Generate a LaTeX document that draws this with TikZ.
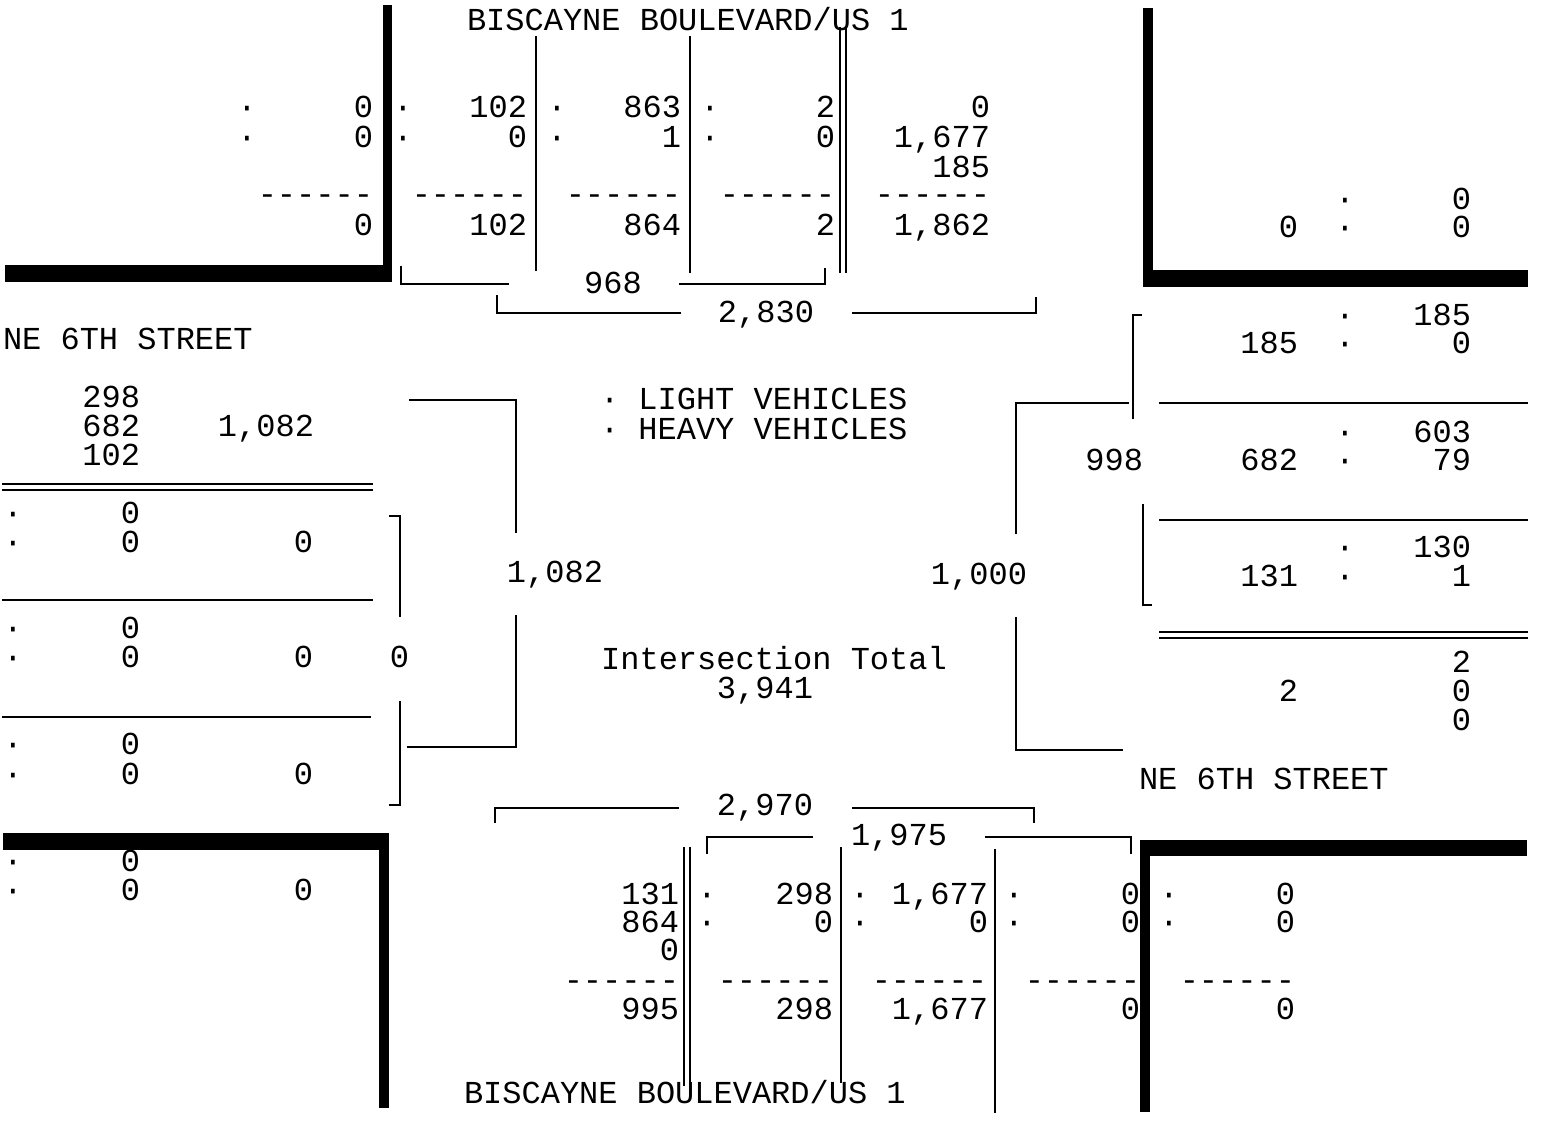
\documentclass[tikz,border=0pt]{standalone}
\usepackage{fontspec}
\setmonofont{Liberation Mono}
\newcounter{nn}
\tikzset{
  num/.style={inner sep=0pt, outer sep=0pt, text height=19pt, text depth=0pt,
    font=\ttfamily\fontsize{32}{32}\selectfont},
  ln/.style={line width=2pt, line cap=rect},
  bar/.style={fill=black, draw=none}
}
\newcommand\RN[3]{\stepcounter{nn}\node[num,anchor=east] (n\arabic{nn}) at (#1,#2) {#3};}
\newcommand\DT[2]{\stepcounter{nn}\node[num,anchor=center] (n\arabic{nn}) at (#1,#2) {·};}
\newcommand\CN[3]{\stepcounter{nn}\node[num,anchor=center] (n\arabic{nn}) at (#1,#2) {#3};}
\newcommand\LN[3]{\stepcounter{nn}\node[num,anchor=west] (n\arabic{nn}) at (#1,#2) {#3};}
\begin{document}
\begin{tikzpicture}[x=1pt,y=-1pt]
\useasboundingbox (0,0) rectangle (1551,1121);
\fill[white] (0,0) rectangle (1551,1121);

% thick corner bars
\fill[bar] (383,5) rectangle (392,282);
\fill[bar] (5,265) rectangle (392,282);
\fill[bar] (1143,8) rectangle (1153,287);
\fill[bar] (1143,270) rectangle (1528,287);
\fill[bar] (3,833) rectangle (388,850);
\fill[bar] (379,833) rectangle (389,1108);
\fill[bar] (1140,840) rectangle (1150,1112);
\fill[bar] (1140,840) rectangle (1527,856);

% titles
\LN{467}{21}{BISCAYNE BOULEVARD/US 1}
\LN{464}{1094}{BISCAYNE BOULEVARD/US 1}
\LN{3}{340}{NE 6TH STREET}
\LN{1139}{780}{NE 6TH STREET}

% ---------- top (north) ----------
\draw[ln] (536,37) -- (536,270);
\draw[ln] (690,37) -- (690,272);
\draw[ln] (840,28) -- (840,272);
\draw[ln] (846,28) -- (846,272);

\DT{247}{108}\RN{373}{108}{0}\DT{403}{108}\RN{527}{108}{102}\DT{557}{108}\RN{681}{108}{863}\DT{710}{108}\RN{835}{108}{2}\RN{990}{108}{0}
\DT{247}{138}\RN{373}{138}{0}\DT{403}{138}\RN{527}{138}{0}\DT{557}{138}\RN{681}{138}{1}\DT{710}{138}\RN{835}{138}{0}\RN{990}{138}{1,677}
\RN{990}{168}{185}
\RN{373}{195}{------}\RN{527}{195}{------}\RN{681}{195}{------}\RN{835}{195}{------}\RN{990}{195}{------}
\RN{373}{226}{0}\RN{527}{226}{102}\RN{681}{226}{864}\RN{835}{226}{2}\RN{990}{226}{1,862}

\CN{613}{284}{968}
\draw[ln] (401,267) -- (401,284) -- (508,284);
\draw[ln] (680,284) -- (825,284) -- (825,269);
\CN{766}{313}{2,830}
\draw[ln] (497,296) -- (497,313) -- (680,313);
\draw[ln] (853,313) -- (1036,313) -- (1036,298);

% top right corner
\DT{1345}{200}\RN{1471}{200}{0}
\RN{1298}{228}{0}\DT{1345}{228}\RN{1471}{228}{0}

% ---------- right (east) ----------
\draw[ln] (1141,315) -- (1133,315) -- (1133,418);
\draw[ln] (1143,505) -- (1143,605) -- (1151,605);
\draw[ln] (1160,403) -- (1527,403);
\draw[ln] (1160,520) -- (1527,520);
\draw[ln] (1160,632) -- (1527,632);
\draw[ln] (1160,638) -- (1527,638);

\DT{1345}{316}\RN{1471}{316}{185}
\RN{1298}{344}{185}\DT{1345}{344}\RN{1471}{344}{0}
\DT{1345}{433}\RN{1471}{433}{603}
\RN{1143}{461}{998}\RN{1298}{461}{682}\DT{1345}{461}\RN{1471}{461}{79}
\DT{1345}{548}\RN{1471}{548}{130}
\RN{1298}{577}{131}\DT{1345}{577}\RN{1471}{577}{1}
\RN{1471}{663}{2}
\RN{1298}{692}{2}\RN{1471}{692}{0}
\RN{1471}{721}{0}

\draw[ln] (1128,403) -- (1016,403) -- (1016,533);
\draw[ln] (1016,618) -- (1016,750) -- (1122,750);
\RN{1027}{575}{1,000}

% ---------- left (west) ----------
\RN{140}{398}{298}
\RN{140}{427}{682}\RN{314}{427}{1,082}
\RN{140}{456}{102}
\draw[ln] (3,484) -- (372,484);
\draw[ln] (3,490) -- (372,490);
\DT{13}{514}\RN{140}{514}{0}
\DT{13}{543}\RN{140}{543}{0}\RN{313}{543}{0}
\draw[ln] (3,600) -- (372,600);
\DT{13}{629}\RN{140}{629}{0}
\DT{13}{658}\RN{140}{658}{0}\RN{313}{658}{0}\RN{409}{658}{0}
\draw[ln] (3,717) -- (370,717);
\DT{13}{745}\RN{140}{745}{0}
\DT{13}{775}\RN{140}{775}{0}\RN{313}{775}{0}
\draw[ln] (390,516) -- (400,516) -- (400,616);
\draw[ln] (400,702) -- (400,805) -- (390,805);
\DT{13}{862}\RN{140}{862}{0}
\DT{13}{891}\RN{140}{891}{0}\RN{313}{891}{0}

\draw[ln] (410,400) -- (516,400) -- (516,532);
\draw[ln] (516,616) -- (516,747) -- (408,747);
\RN{603}{573}{1,082}

% ---------- centre ----------
\LN{600}{400}{· LIGHT VEHICLES}
\LN{600}{430}{· HEAVY VEHICLES}
\CN{774}{660}{Intersection Total}
\CN{765}{689}{3,941}

% ---------- bottom (south) ----------
\CN{765}{806}{2,970}
\draw[ln] (495,822) -- (495,808) -- (678,808);
\draw[ln] (853,808) -- (1034,808) -- (1034,822);
\CN{899}{836}{1,975}
\draw[ln] (707,853) -- (707,837) -- (812,837);
\draw[ln] (986,837) -- (1131,837) -- (1131,853);

\draw[ln] (684,848) -- (684,1085);
\draw[ln] (690,848) -- (690,1085);
\draw[ln] (841,848) -- (841,1082);
\draw[ln] (995,850) -- (995,1112);

\RN{679}{895}{131}\DT{707}{895}\RN{833}{895}{298}\DT{860}{895}\RN{988}{895}{1,677}\DT{1014}{895}\RN{1140}{895}{0}\DT{1169}{895}\RN{1295}{895}{0}
\RN{679}{923}{864}\DT{707}{923}\RN{833}{923}{0}\DT{860}{923}\RN{988}{923}{0}\DT{1014}{923}\RN{1140}{923}{0}\DT{1169}{923}\RN{1295}{923}{0}
\RN{679}{951}{0}
\RN{679}{981}{------}\RN{833}{981}{------}\RN{987}{981}{------}\RN{1140}{981}{------}\RN{1295}{981}{------}
\RN{679}{1010}{995}\RN{833}{1010}{298}\RN{988}{1010}{1,677}\RN{1140}{1010}{0}\RN{1295}{1010}{0}
\end{tikzpicture}
\end{document}
